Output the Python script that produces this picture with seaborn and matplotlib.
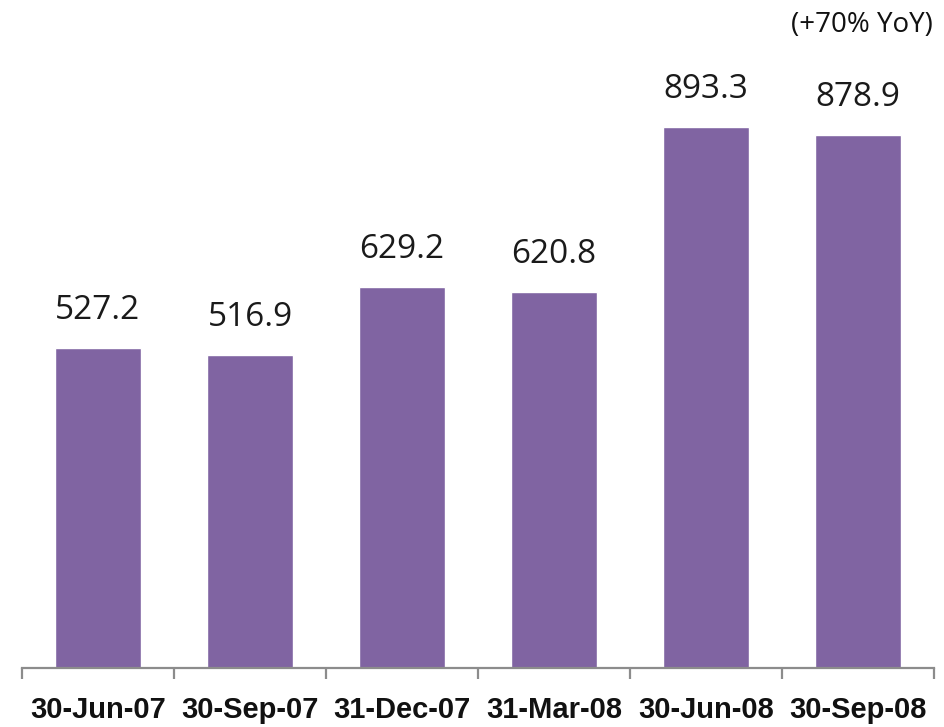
import matplotlib
matplotlib.use("Agg")
import matplotlib.pyplot as plt
import seaborn as sns
import pandas as pd
import numpy as np

quarters = ["30-Jun-07", "30-Sep-07", "31-Dec-07", "31-Mar-08", "30-Jun-08", "30-Sep-08"]
values = [527.2, 516.9, 629.2, 620.8, 893.3, 878.9]
value_labels = ["527.2", "516.9", "629.2", "620.8", "893.3", "878.9"]
growth_note = "(+70% YoY)"

sns.set_theme(style="white")
plt.rcParams["font.family"] = ["Open Sans", "DejaVu Sans"]

df = pd.DataFrame({"quarter": quarters, "value": values})

fig = plt.figure(figsize=(9.45, 7.27), dpi=100)
ax = fig.add_axes([22 / 945, 59 / 727, 912 / 945, 668 / 727])

sns.barplot(data=df, x="quarter", y="value", color="#8064A2", saturation=1,
            width=0.56, ax=ax)

ax.set_ylim(0, 1102)
ax.set_xlim(-0.5, len(quarters) - 0.5)

for i, (v, lab) in enumerate(zip(values, value_labels)):
    ax.annotate(lab, xy=(i, v), xytext=(0, 27), textcoords="offset points",
                ha="center", va="center", fontsize=24, color="#1a1a1a")

for s in ["top", "right", "left"]:
    ax.spines[s].set_visible(False)
ax.spines["bottom"].set_color("#8c8c8c")
ax.spines["bottom"].set_linewidth(1.6)

ax.set_yticks([])
ax.set_xlabel("")
ax.set_ylabel("")
ax.set_xticks(range(len(quarters)))
ax.set_xticklabels(quarters, fontsize=21, fontweight="bold",
                   family=["Liberation Sans", "DejaVu Sans"], color="#111111")
ax.tick_params(axis="x", which="major", length=0, pad=20)
ax.set_xticks(np.arange(-0.5, len(quarters), 1.0), minor=True)
ax.tick_params(axis="x", which="minor", length=8, width=1.6, color="#8c8c8c",
               direction="out", bottom=True)

fig.text(933 / 945, 1 - 25 / 727, growth_note, ha="right", va="center",
         fontsize=20, color="#111111")

fig.savefig("out.png", dpi=100)
